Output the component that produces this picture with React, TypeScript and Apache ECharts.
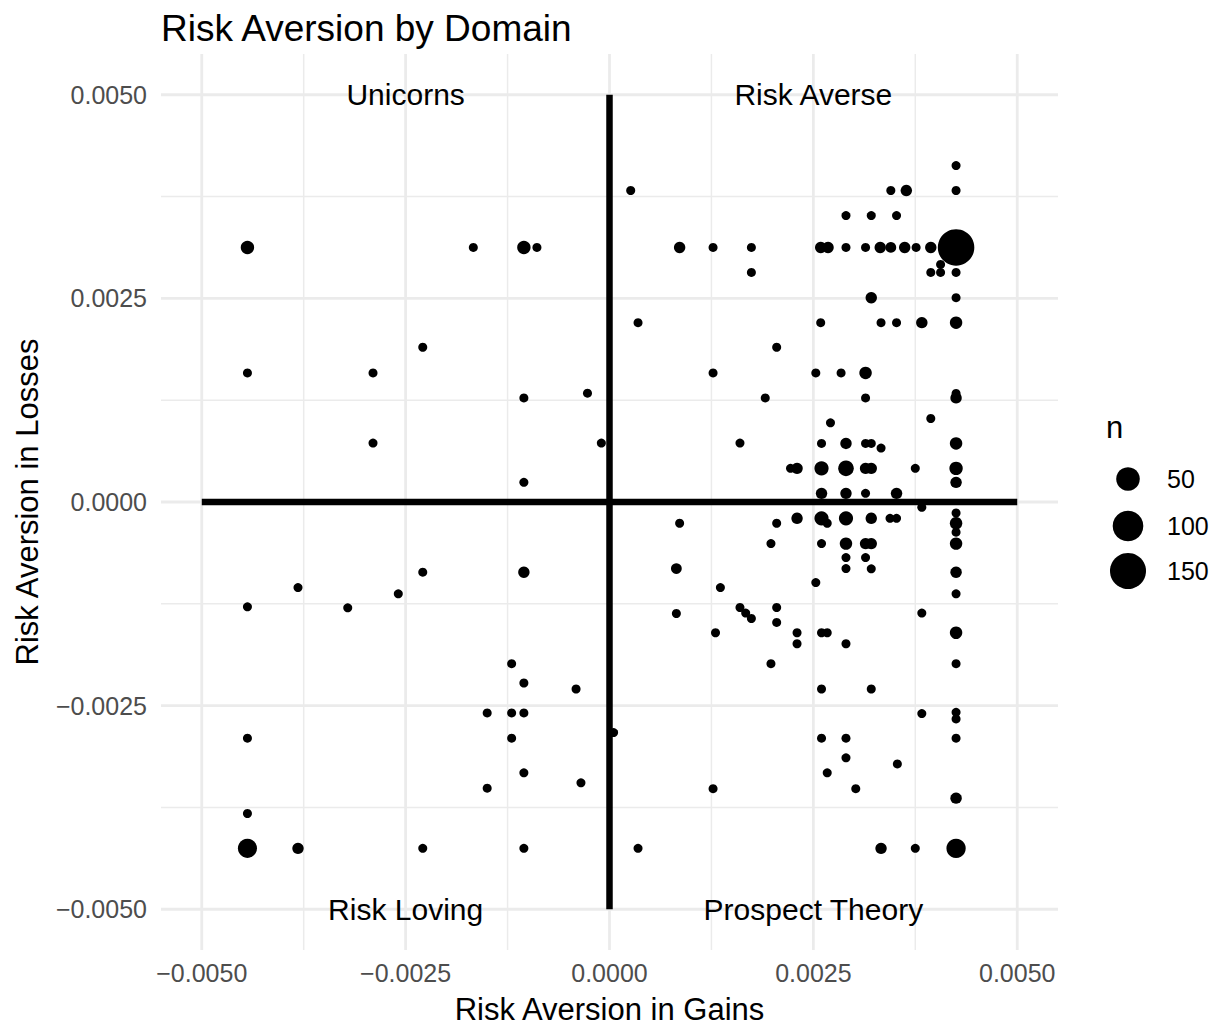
import React, { useEffect, useRef } from "react";
import * as echarts from "echarts";

// [risk aversion in gains, risk aversion in losses, n]
const upperLeft: number[][] = [
  [-0.00444, 0.003125, 8], [-0.00167, 0.003125, 1], [-0.00105, 0.003125, 8], [-0.00089, 0.003125, 1],
  [-0.00444, 0.001585, 1], [-0.0029, 0.001585, 1], [-0.00229, 0.0019, 1], [-0.0029, 0.000723, 1],
  [-0.00105, 0.001278, 1], [-0.00027, 0.001336, 1], [-0.0001, 0.000723, 1], [-0.00105, 0.000241, 1],
];

const upperRight: number[][] = [
  [0.00026, 0.003824, 1], [0.00086, 0.003125, 4], [0.00127, 0.003125, 1], [0.00174, 0.003125, 1],
  [0.00174, 0.002819, 1], [0.00035, 0.002202, 1], [0.00425, 0.00413, 1], [0.00345, 0.003824, 1],
  [0.00364, 0.003824, 4], [0.00425, 0.003824, 1], [0.0029, 0.003517, 1], [0.00321, 0.003517, 1],
  [0.00352, 0.003517, 1], [0.00259, 0.003125, 4], [0.00268, 0.003125, 4], [0.0029, 0.003125, 1],
  [0.00314, 0.003125, 1], [0.00332, 0.003125, 4], [0.00345, 0.003125, 3], [0.00362, 0.003125, 4],
  [0.00376, 0.003125, 1], [0.00394, 0.003125, 4], [0.00425, 0.003125, 155], [0.00406, 0.002917, 1],
  [0.00394, 0.002819, 1], [0.00406, 0.002819, 1], [0.00425, 0.002819, 1], [0.00321, 0.002508, 4],
  [0.00425, 0.002508, 1], [0.00259, 0.002202, 1], [0.00333, 0.002202, 1], [0.00352, 0.002202, 1],
  [0.00383, 0.002202, 4], [0.00425, 0.002202, 6], [0.00205, 0.0019, 1], [0.00127, 0.001585, 1],
  [0.0016, 0.000723, 1], [0.00253, 0.001585, 1], [0.00284, 0.001585, 1], [0.00314, 0.001585, 6],
  [0.00191, 0.001278, 1], [0.00314, 0.001278, 1], [0.00425, 0.001332, 1], [0.00425, 0.001278, 4],
  [0.00271, 0.000972, 1], [0.00394, 0.001025, 1], [0.0026, 0.000719, 1], [0.0029, 0.000719, 4],
  [0.00314, 0.000719, 1], [0.00321, 0.000719, 1], [0.00333, 0.000662, 1], [0.00425, 0.000719, 6],
  [0.00222, 0.000413, 1], [0.0023, 0.000413, 4], [0.0026, 0.000413, 10], [0.0029, 0.000413, 14],
  [0.00314, 0.000413, 4], [0.00321, 0.000413, 4], [0.00375, 0.000413, 1], [0.00425, 0.000413, 8],
  [0.00425, 0.000241, 4], [0.0026, 0.000106, 4], [0.0029, 0.000106, 4], [0.00314, 0.000106, 1],
  [0.00352, 0.000106, 4],
];

const lowerRight: number[][] = [
  [0.00383, -0.000065, 1], [0.00425, -0.000135, 1], [0.00086, -0.000261, 1], [0.00205, -0.000261, 1],
  [0.0023, -0.0002, 4], [0.0026, -0.0002, 10], [0.00267, -0.000261, 1], [0.0029, -0.0002, 10],
  [0.00321, -0.0002, 4], [0.00344, -0.0002, 1], [0.00352, -0.0002, 1], [0.00425, -0.000261, 6],
  [0.00425, -0.000371, 1], [0.00198, -0.000511, 1], [0.0026, -0.000511, 1], [0.0029, -0.000511, 6],
  [0.00314, -0.000511, 4], [0.00321, -0.000511, 4], [0.00425, -0.000511, 6], [0.0029, -0.000682, 1],
  [0.00314, -0.000682, 1], [0.0029, -0.000817, 1], [0.00321, -0.000821, 1], [0.00425, -0.000862, 4],
  [0.00082, -0.000817, 3], [0.00253, -0.000989, 1], [0.00425, -0.001127, 1], [0.00136, -0.00105, 1],
  [0.0016, -0.001295, 1], [0.00167, -0.001364, 1], [0.00174, -0.00143, 1], [0.00082, -0.001369, 1],
  [0.0013, -0.001605, 1], [0.00205, -0.001295, 1], [0.00383, -0.001364, 1], [0.00205, -0.001478, 1],
  [0.0023, -0.001605, 1], [0.0026, -0.001605, 1], [0.00267, -0.001605, 1], [0.00425, -0.001605, 6],
  [0.0023, -0.00174, 1], [0.0029, -0.00174, 1], [0.00198, -0.001985, 1], [0.00425, -0.001985, 1],
  [0.0026, -0.002296, 1], [0.00321, -0.002296, 1], [0.00383, -0.002598, 1], [0.00425, -0.002582, 1],
  [0.00425, -0.002663, 1], [0.0026, -0.0029, 1], [0.0029, -0.0029, 1], [0.00425, -0.0029, 1],
  [0.0029, -0.003141, 1], [0.00353, -0.003215, 1], [0.00267, -0.003325, 1], [0.00302, -0.00352, 1],
  [0.00425, -0.003636, 4], [0.00127, -0.00352, 1], [0.00035, -0.004252, 1], [0.00333, -0.004252, 4],
  [0.00375, -0.004252, 1], [0.00425, -0.004252, 28], [0.00005, -0.002831, 1],
];

const lowerLeft: number[][] = [
  [-0.00444, -0.001287, 1], [-0.00382, -0.00105, 1], [-0.00321, -0.001299, 1], [-0.00259, -0.001127, 1],
  [-0.00229, -0.000862, 1], [-0.00105, -0.000862, 4], [-0.0012, -0.001985, 1], [-0.00105, -0.002222, 1],
  [-0.00041, -0.002296, 1], [-0.0015, -0.00259, 1], [-0.0012, -0.00259, 1], [-0.00105, -0.00259, 1],
  [-0.0012, -0.0029, 1], [-0.00105, -0.003325, 1], [-0.00035, -0.003447, 1], [-0.0015, -0.003513, 1],
  [-0.00105, -0.004252, 1], [-0.00444, -0.0029, 1], [-0.00444, -0.003824, 1], [-0.00444, -0.004252, 27],
  [-0.00382, -0.004252, 4], [-0.00229, -0.004252, 1],
];

const majorTicks = [-0.005, -0.0025, 0, 0.0025, 0.005];
const minorTicks = [-0.00375, -0.00125, 0.00125, 0.00375];
const legendValues = [50, 100, 150];
const quadrantLabels = [
  { name: "Unicorns", value: [-0.0025, 0.005] },
  { name: "Risk Averse", value: [0.0025, 0.005] },
  { name: "Risk Loving", value: [-0.0025, -0.005] },
  { name: "Prospect Theory", value: [0.0025, -0.005] },
];

const FONT = "'Liberation Sans', Arial, Helvetica, sans-serif";
const LIM = 0.0055;
const N_MAX = 155;
const sizeOf = (n: number) => 9 + 27.5 * (Math.sqrt(n) - 1) / (Math.sqrt(N_MAX) - 1);
const fmt = (v: number) => (v < 0 ? "\u2212" : "") + Math.abs(v).toFixed(4);

export default function App() {
  const ref = useRef<HTMLDivElement>(null);
  useEffect(() => {
    if (!ref.current) return;
    const chart = echarts.init(ref.current, undefined, { renderer: "svg" });
    const points = [...upperLeft, ...upperRight, ...lowerRight, ...lowerLeft];

    const gridSeries: any[] = [];
    const addGrid = (v: number, width: number) => {
      gridSeries.push({
        type: "line", z: 1, silent: true, symbol: "none",
        data: [[v, -LIM], [v, LIM]],
        lineStyle: { color: "#EBEBEB", width, cap: "butt" },
      });
      gridSeries.push({
        type: "line", z: 1, silent: true, symbol: "none",
        data: [[-LIM, v], [LIM, v]],
        lineStyle: { color: "#EBEBEB", width, cap: "butt" },
      });
    };
    minorTicks.forEach((v) => addGrid(v, 1.5));
    majorTicks.forEach((v) => addGrid(v, 2.8));

    const legendX = 1128;
    const legendY = [479, 526, 571];
    const graphic: any[] = [
      {
        type: "text", left: 1106, top: 412,
        style: { text: "n", font: `31px ${FONT}`, fill: "#000" },
      },
    ];
    legendValues.forEach((v, i) => {
      graphic.push({
        type: "circle", shape: { cx: legendX, cy: legendY[i], r: sizeOf(v) / 2 },
        style: { fill: "#000" },
      });
      graphic.push({
        type: "text", x: 1167, y: legendY[i],
        style: { text: String(v), font: `25px ${FONT}`, fill: "#000", textVerticalAlign: "middle" },
      });
    });

    chart.setOption({
      animation: false,
      backgroundColor: "#fff",
      title: {
        text: "Risk Aversion by Domain",
        left: 156, top: 5,
        textStyle: { fontSize: 37, fontWeight: "normal", color: "#000", fontFamily: FONT },
      },
      grid: { left: 161, top: 54, width: 897, height: 896 },
      xAxis: {
        type: "value", min: -LIM, max: LIM,
        name: "Risk Aversion in Gains", nameLocation: "middle", nameGap: 44,
        nameTextStyle: { fontSize: 31, color: "#000", fontFamily: FONT },
        axisLine: { show: false }, axisTick: { show: false }, splitLine: { show: false },
        axisLabel: {
          customValues: majorTicks, formatter: fmt, margin: 10,
          fontSize: 25, color: "#4D4D4D", fontFamily: FONT,
        },
      },
      yAxis: {
        type: "value", min: -LIM, max: LIM,
        name: "Risk Aversion in Losses", nameLocation: "middle", nameGap: 118, nameRotate: 90,
        nameTextStyle: { fontSize: 31, color: "#000", fontFamily: FONT },
        axisLine: { show: false }, axisTick: { show: false }, splitLine: { show: false },
        axisLabel: {
          customValues: majorTicks, formatter: fmt, margin: 14,
          fontSize: 25, color: "#4D4D4D", fontFamily: FONT,
        },
      },
      graphic,
      series: [
        ...gridSeries,
        {
          type: "line", z: 2, silent: true, symbol: "none",
          data: [[-0.005, 0], [0.005, 0]],
          lineStyle: { color: "#000", width: 6.5, cap: "butt" },
        },
        {
          type: "line", z: 2, silent: true, symbol: "none",
          data: [[0, -0.005], [0, 0.005]],
          lineStyle: { color: "#000", width: 6.5, cap: "butt" },
        },
        {
          type: "scatter", z: 3, data: points,
          symbolSize: (val: number[]) => sizeOf(val[2]),
          itemStyle: { color: "#000", opacity: 1 },
        },
        {
          type: "scatter", z: 4, data: quadrantLabels, symbolSize: 0, silent: true,
          itemStyle: { color: "#000", opacity: 1 },
          label: {
            show: true, position: "inside", formatter: "{b}",
            fontSize: 30, color: "#000", fontFamily: FONT,
            textBorderWidth: 0, opacity: 1,
          },
        },
      ],
    });
    return () => chart.dispose();
  }, []);
  return (
    <div
      ref={ref}
      style={{ position: "fixed", left: 0, top: 0, width: 1222, height: 1030, background: "#fff" }}
    />
  );
}
